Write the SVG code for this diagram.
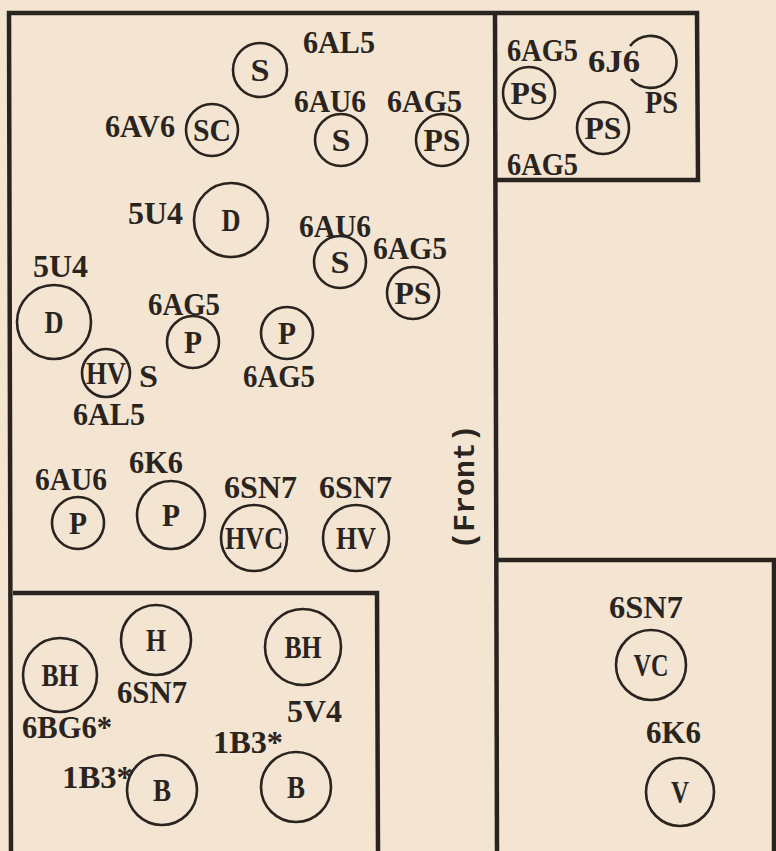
<svg xmlns="http://www.w3.org/2000/svg" width="776" height="851" viewBox="0 0 776 851">
<style>
.bg{fill:#f3e5d1}
.box{fill:none;stroke:#2a2420;stroke-width:4.5;stroke-linejoin:miter}
.tube{fill:none;stroke:#2a2420;stroke-width:2.6}
.lbl{font-family:"Liberation Serif","Times New Roman",serif;font-weight:bold;font-size:32px;fill:#2a2420}
.in{font-family:"Liberation Serif","Times New Roman",serif;font-weight:bold;font-size:32px;fill:#2a2420;text-anchor:middle}
.front{font-family:"Liberation Mono","Courier New",monospace;font-weight:bold;font-size:29px;fill:#2a2420;text-anchor:middle}
</style>
<rect class="bg" x="0" y="0" width="776" height="851"/>
<g id="chassis">
<path class="box" d="M11 853 L9 13 L697 13 L698 180 L495 180"/>
<path class="box" d="M495 13 L497 853"/>
<path class="box" d="M13 593 L377 593 L378 853"/>
<path class="box" d="M497 560 L774 560 L774 853"/>
<text class="front" transform="translate(474,487) rotate(-90)" textLength="125" lengthAdjust="spacingAndGlyphs">(Front)</text>
</g>
<g id="t1"><circle class="tube" cx="260" cy="70" r="27"/><text class="in" x="260" y="81" textLength="19" lengthAdjust="spacingAndGlyphs">S</text><text class="lbl" x="303" y="53" textLength="72" lengthAdjust="spacingAndGlyphs">6AL5</text></g>
<g id="t2"><circle class="tube" cx="212" cy="130" r="26"/><text class="in" x="212" y="141" textLength="38" lengthAdjust="spacingAndGlyphs">SC</text><text class="lbl" x="105" y="137" textLength="70" lengthAdjust="spacingAndGlyphs">6AV6</text></g>
<g id="t3"><circle class="tube" cx="341" cy="140" r="26"/><text class="in" x="341" y="151" textLength="19" lengthAdjust="spacingAndGlyphs">S</text><text class="lbl" x="294" y="112" textLength="72" lengthAdjust="spacingAndGlyphs">6AU6</text></g>
<g id="t4"><circle class="tube" cx="442" cy="140" r="26"/><text class="in" x="442" y="151" textLength="37" lengthAdjust="spacingAndGlyphs">PS</text><text class="lbl" x="387" y="112" textLength="75" lengthAdjust="spacingAndGlyphs">6AG5</text></g>
<g id="t5"><circle class="tube" cx="231" cy="220" r="37"/><text class="in" x="231" y="231" textLength="19" lengthAdjust="spacingAndGlyphs">D</text><text class="lbl" x="128" y="224" textLength="55" lengthAdjust="spacingAndGlyphs">5U4</text></g>
<g id="t6"><circle class="tube" cx="340" cy="262" r="26"/><text class="in" x="340" y="273" textLength="19" lengthAdjust="spacingAndGlyphs">S</text><text class="lbl" x="299" y="237" textLength="72" lengthAdjust="spacingAndGlyphs">6AU6</text></g>
<g id="t7"><circle class="tube" cx="413" cy="293" r="26"/><text class="in" x="413" y="304" textLength="37" lengthAdjust="spacingAndGlyphs">PS</text><text class="lbl" x="373" y="259" textLength="74" lengthAdjust="spacingAndGlyphs">6AG5</text></g>
<g id="t8"><circle class="tube" cx="54" cy="322" r="37"/><text class="in" x="54" y="333" textLength="19" lengthAdjust="spacingAndGlyphs">D</text><text class="lbl" x="33" y="277" textLength="55" lengthAdjust="spacingAndGlyphs">5U4</text></g>
<g id="t9"><circle class="tube" cx="193" cy="342" r="26"/><text class="in" x="193" y="353" textLength="18" lengthAdjust="spacingAndGlyphs">P</text><text class="lbl" x="148" y="315" textLength="72" lengthAdjust="spacingAndGlyphs">6AG5</text></g>
<g id="t10"><circle class="tube" cx="287" cy="333" r="26"/><text class="in" x="287" y="344" textLength="18" lengthAdjust="spacingAndGlyphs">P</text><text class="lbl" x="243" y="387" textLength="72" lengthAdjust="spacingAndGlyphs">6AG5</text></g>
<g id="t11"><circle class="tube" cx="106" cy="373" r="24"/><text class="in" x="106" y="384" textLength="40" lengthAdjust="spacingAndGlyphs">HV</text><text class="lbl" x="139" y="387" textLength="19" lengthAdjust="spacingAndGlyphs">S</text><text class="lbl" x="73" y="425" textLength="72" lengthAdjust="spacingAndGlyphs">6AL5</text></g>
<g id="t12"><circle class="tube" cx="78" cy="523" r="26"/><text class="in" x="78" y="534" textLength="18" lengthAdjust="spacingAndGlyphs">P</text><text class="lbl" x="35" y="490" textLength="72" lengthAdjust="spacingAndGlyphs">6AU6</text></g>
<g id="t13"><circle class="tube" cx="171" cy="515" r="34"/><text class="in" x="171" y="526" textLength="18" lengthAdjust="spacingAndGlyphs">P</text><text class="lbl" x="129" y="473" textLength="54" lengthAdjust="spacingAndGlyphs">6K6</text></g>
<g id="t14"><circle class="tube" cx="254" cy="538" r="33"/><text class="in" x="254" y="549" textLength="58" lengthAdjust="spacingAndGlyphs">HVC</text><text class="lbl" x="224" y="498" textLength="73" lengthAdjust="spacingAndGlyphs">6SN7</text></g>
<g id="t15"><circle class="tube" cx="356" cy="538" r="33"/><text class="in" x="356" y="549" textLength="40" lengthAdjust="spacingAndGlyphs">HV</text><text class="lbl" x="319" y="498" textLength="73" lengthAdjust="spacingAndGlyphs">6SN7</text></g>
<g id="t16"><circle class="tube" cx="529" cy="93" r="26"/><text class="in" x="529" y="104" textLength="37" lengthAdjust="spacingAndGlyphs">PS</text><text class="lbl" x="507" y="61" textLength="71" lengthAdjust="spacingAndGlyphs">6AG5</text></g>
<g id="t17"><path class="tube" d="M630 46 A26 26 0 1 1 631 79"/><text class="lbl" x="588" y="72" textLength="52" lengthAdjust="spacingAndGlyphs">6J6</text><text class="lbl" x="645" y="113" textLength="33" lengthAdjust="spacingAndGlyphs">PS</text></g>
<g id="t18"><circle class="tube" cx="603" cy="128" r="26"/><text class="in" x="603" y="139" textLength="37" lengthAdjust="spacingAndGlyphs">PS</text><text class="lbl" x="507" y="175" textLength="71" lengthAdjust="spacingAndGlyphs">6AG5</text></g>
<g id="t19"><circle class="tube" cx="60" cy="675" r="37"/><text class="in" x="60" y="686" textLength="37" lengthAdjust="spacingAndGlyphs">BH</text><text class="lbl" x="22" y="738" textLength="90" lengthAdjust="spacingAndGlyphs">6BG6*</text></g>
<g id="t20"><circle class="tube" cx="156" cy="640" r="35"/><text class="in" x="156" y="651" textLength="20" lengthAdjust="spacingAndGlyphs">H</text><text class="lbl" x="117" y="703" textLength="70" lengthAdjust="spacingAndGlyphs">6SN7</text></g>
<g id="t21"><circle class="tube" cx="303" cy="647" r="38"/><text class="in" x="303" y="658" textLength="37" lengthAdjust="spacingAndGlyphs">BH</text><text class="lbl" x="287" y="722" textLength="55" lengthAdjust="spacingAndGlyphs">5V4</text></g>
<g id="t22"><circle class="tube" cx="162" cy="790" r="35"/><text class="in" x="162" y="801" textLength="18" lengthAdjust="spacingAndGlyphs">B</text><text class="lbl" x="62" y="788" textLength="71" lengthAdjust="spacingAndGlyphs">1B3*</text></g>
<g id="t23"><circle class="tube" cx="296" cy="787" r="35"/><text class="in" x="296" y="798" textLength="18" lengthAdjust="spacingAndGlyphs">B</text><text class="lbl" x="213" y="753" textLength="70" lengthAdjust="spacingAndGlyphs">1B3*</text></g>
<g id="t24"><circle class="tube" cx="651" cy="665" r="35"/><text class="in" x="651" y="676" textLength="35" lengthAdjust="spacingAndGlyphs">VC</text><text class="lbl" x="609" y="618" textLength="74" lengthAdjust="spacingAndGlyphs">6SN7</text></g>
<g id="t25"><circle class="tube" cx="680" cy="792" r="34"/><text class="in" x="680" y="803" textLength="18" lengthAdjust="spacingAndGlyphs">V</text><text class="lbl" x="646" y="743" textLength="55" lengthAdjust="spacingAndGlyphs">6K6</text></g>
</svg>
